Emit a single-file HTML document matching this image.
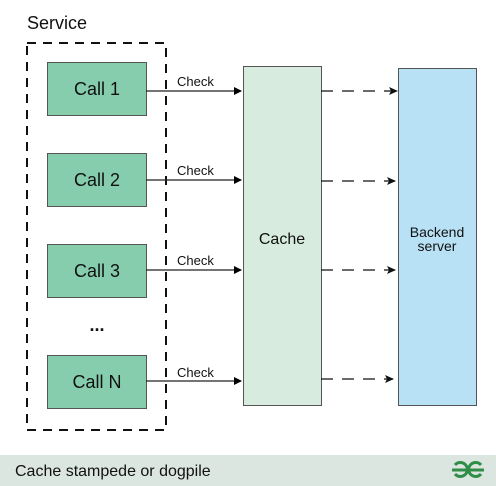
<!DOCTYPE html>
<html><head><style>html,body{margin:0;padding:0;background:#fff;width:496px;height:486px;overflow:hidden}svg text{font-family:"Liberation Sans",sans-serif}</style></head>
<body>
<svg width="496" height="486" viewBox="0 0 496 486" xmlns="http://www.w3.org/2000/svg">
<defs>
<marker id="a" markerWidth="8" markerHeight="8" refX="7" refY="4" orient="auto" markerUnits="userSpaceOnUse"><path d="M0,0 L8,4 L0,8 z" fill="#000"/></marker>
<marker id="b" markerWidth="9" markerHeight="8" refX="8" refY="4" orient="auto" markerUnits="userSpaceOnUse"><path d="M0,0 L9,4 L0,8 L2,4 z" fill="#111"/></marker>
</defs>
<text x="27" y="29" font-size="18" fill="#111">Service</text>
<rect x="27" y="43" width="139" height="387" fill="none" stroke="#111" stroke-width="2" stroke-dasharray="9,7"/>
<g stroke="#555" stroke-width="1" fill="#85cdad">
<rect x="47.5" y="62.5" width="99" height="53"/>
<rect x="47.5" y="153.5" width="99" height="53"/>
<rect x="47.5" y="244.5" width="99" height="53"/>
<rect x="47.5" y="355.5" width="99" height="53"/>
</g>
<g font-size="18" fill="#111" text-anchor="middle">
<text x="97" y="95">Call 1</text>
<text x="97" y="186">Call 2</text>
<text x="97" y="277">Call 3</text>
<text x="97" y="388">Call N</text>
<text x="97" y="331" font-size="18" font-weight="bold">...</text>
</g>
<rect x="243.5" y="66.5" width="78" height="339" fill="#d7ebdf" stroke="#555"/>
<rect x="398.5" y="68.5" width="78" height="337" fill="#b8e1f5" stroke="#555"/>
<text x="282" y="244" font-size="16" text-anchor="middle" fill="#111">Cache</text>
<text x="437" y="237" font-size="14" text-anchor="middle" fill="#111">Backend</text>
<text x="437" y="251" font-size="14" text-anchor="middle" fill="#111">server</text>
<g stroke="#222" stroke-width="1.2" marker-end="url(#a)">
<line x1="146" y1="91" x2="241" y2="91"/>
<line x1="146" y1="180" x2="241" y2="180"/>
<line x1="146" y1="270" x2="241" y2="270"/>
<line x1="146" y1="381" x2="241" y2="381"/>
</g>
<g font-size="13" fill="#111">
<text x="177" y="86">Check</text>
<text x="177" y="175">Check</text>
<text x="177" y="265">Check</text>
<text x="177" y="377">Check</text>
</g>
<g stroke="#111" stroke-width="1.2" stroke-dasharray="12,9" marker-end="url(#b)">
<line x1="321" y1="91" x2="397" y2="91"/>
<line x1="321" y1="181" x2="395" y2="181"/>
<line x1="321" y1="270" x2="395" y2="270"/>
<line x1="321" y1="379" x2="393" y2="379"/>
</g>
<rect x="0" y="455" width="496" height="31" fill="#dce6e1"/>
<text x="15" y="476" font-size="16" fill="#111">Cache stampede or dogpile</text>
<g fill="none" stroke="#2f8d46" stroke-width="3">
<path d="M455,465 A7,7 0 1 1 455,474"/>
<path d="M452,470 H468"/>
<path d="M481,465 A7,7 0 1 0 481,474"/>
<path d="M468,470 H484"/>
</g>
</svg>
</body></html>
